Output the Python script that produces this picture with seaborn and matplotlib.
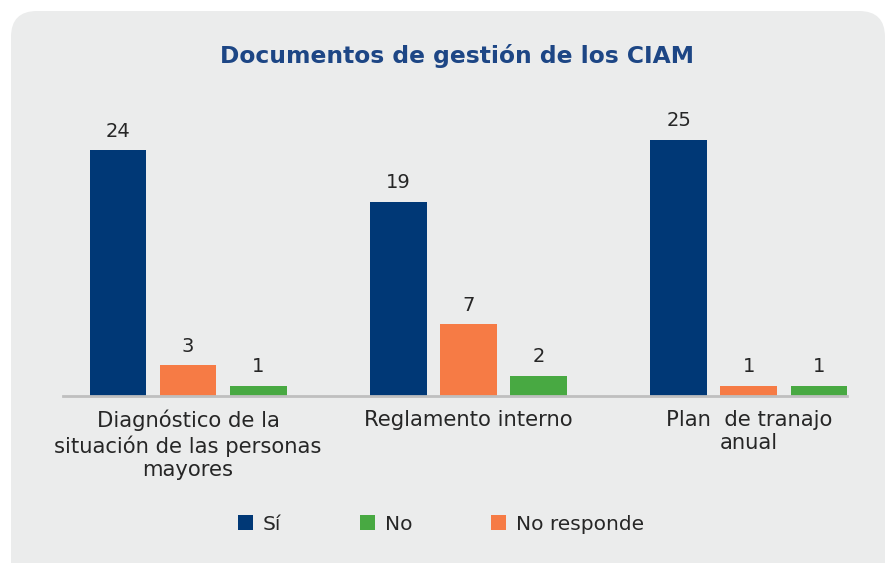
import pandas as pd
import seaborn as sns
import matplotlib.pyplot as plt
from matplotlib.patches import FancyBboxPatch
from matplotlib.transforms import IdentityTransform

# data
categories = ["Diagnóstico de la\nsituación de las personas\nmayores",
              "Reglamento interno",
              "Plan  de tranajo\nanual"]
si = [24, 19, 25]
no_responde = [3, 7, 1]
no = [1, 2, 1]

series_order = ["Sí", "No responde", "No"]
legend_order = ["Sí", "No", "No responde"]
colors = {"Sí": "#003876", "No responde": "#F67B45", "No": "#48A942"}

rows = []
for i, cat in enumerate(categories):
    rows.append([cat, "Sí", si[i]])
    rows.append([cat, "No responde", no_responde[i]])
    rows.append([cat, "No", no[i]])
df = pd.DataFrame(rows, columns=["Documento", "Respuesta", "Cantidad"])

sns.set_style("white")
plt.rcParams['font.family'] = ['DejaVu Sans']

fig = plt.figure(figsize=(8.86, 5.63), dpi=100, facecolor="white")

# rounded grey panel behind everything
panel = FancyBboxPatch((11, -40), 874, 592, boxstyle="round,pad=0,rounding_size=26",
                       transform=IdentityTransform(), facecolor="#EBECEC",
                       edgecolor="none", zorder=-10)
fig.patches.append(panel)

ax = fig.add_axes([63 / 886, 1 - 396 / 563, (847 - 63) / 886, 307 / 563])
ax.set_facecolor("none")

sns.barplot(data=df, x="Documento", y="Cantidad", hue="Respuesta",
            hue_order=series_order, palette=colors, width=0.75, gap=0.19,
            saturation=1, edgecolor="none", linewidth=0, ax=ax, legend=True)

for cont in ax.containers:
    ax.bar_label(cont, padding=7, fontsize=14, color="#262626")

ax.set_ylim(0, 30)
ax.set_xlim(-0.446, 2.35)
ax.set_xlabel("")
ax.set_ylabel("")
ax.set_yticks([])
ax.tick_params(axis="x", length=0, pad=10, labelsize=15.2, labelcolor="#262626")
plt.setp(ax.get_xticklabels(), linespacing=1.22)
for s in ["top", "right", "left"]:
    ax.spines[s].set_visible(False)
ax.spines["bottom"].set_color("#BFBFBF")
ax.spines["bottom"].set_linewidth(2)

# legend in the order Sí, No, No responde
handles, labels = ax.get_legend_handles_labels()
hmap = dict(zip(labels, handles))
ax.get_legend().remove()
fig.legend([hmap[k] for k in legend_order], legend_order, loc="center",
           bbox_to_anchor=(441 / 886, 1 - 524 / 563), ncol=3, frameon=False,
           fontsize=14.5, handlelength=0.75, handleheight=0.75, handletextpad=0.5,
           columnspacing=3.9, labelcolor="#262626")

fig.text(457 / 886, 1 - 56 / 563, "Documentos de gestión de los CIAM",
         ha="center", va="center", fontsize=16.8, fontweight="bold", color="#1D4685")

fig.savefig("out.png", dpi=100, facecolor="white")
